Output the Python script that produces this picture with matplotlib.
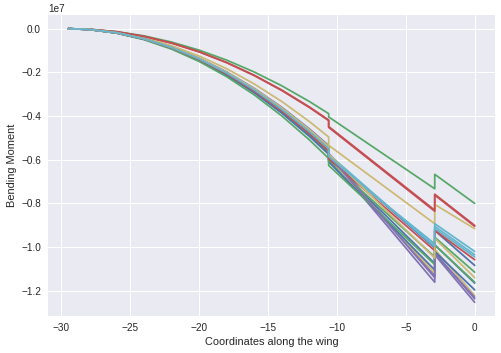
import numpy as np
import matplotlib
matplotlib.use("Agg")
import matplotlib.pyplot as plt

plt.style.use("seaborn-v0_8")

# stations along the wing (the jumps at -10.6 and -2.9 appear twice)
x_stations = [-29.5, -28, -26, -24, -22, -20, -18, -16, -14, -12, -10.6,
              -10.6, -2.9, -2.9, 0]

# bending moment per run, in units of 1e7
moment_runs = [
    [0, -0.0034, -0.0187, -0.0462, -0.0858, -0.1377, -0.2018, -0.2781, -0.3666, -0.4672, -0.545, -0.580, -1.004, -0.924, -1.084],
    [0, -0.0025, -0.0133, -0.0329, -0.0613, -0.0983, -0.1440, -0.1985, -0.2616, -0.3335, -0.389, -0.404, -0.733, -0.667, -0.800],
    [0, -0.0026, -0.0143, -0.0354, -0.0658, -0.1056, -0.1547, -0.2133, -0.2811, -0.3584, -0.418, -0.448, -0.831, -0.758, -0.901],
    [0, -0.0034, -0.0184, -0.0453, -0.0843, -0.1352, -0.1981, -0.2730, -0.3598, -0.4587, -0.535, -0.570, -1.132, -1.025, -1.237],
    [0, -0.0031, -0.0170, -0.0420, -0.0781, -0.1253, -0.1836, -0.2531, -0.3336, -0.4252, -0.496, -0.534, -0.893, -0.805, -0.916],
    [0, -0.0035, -0.0192, -0.0474, -0.0882, -0.1415, -0.2073, -0.2857, -0.3767, -0.4801, -0.560, -0.595, -0.985, -0.893, -1.020],
    [0, -0.0036, -0.0194, -0.0479, -0.0890, -0.1428, -0.2092, -0.2883, -0.3800, -0.4844, -0.565, -0.600, -1.075, -0.990, -1.165],
    [0, -0.0036, -0.0196, -0.0483, -0.0898, -0.1440, -0.2110, -0.2908, -0.3834, -0.4887, -0.570, -0.605, -1.045, -0.955, -1.115],
    [0, -0.0027, -0.0144, -0.0357, -0.0663, -0.1064, -0.1559, -0.2148, -0.2832, -0.3609, -0.421, -0.452, -0.836, -0.762, -0.905],
    [0, -0.0035, -0.0189, -0.0466, -0.0866, -0.1390, -0.2036, -0.2806, -0.3699, -0.4715, -0.550, -0.585, -1.161, -1.035, -1.253],
    [0, -0.0035, -0.0190, -0.0470, -0.0874, -0.1402, -0.2055, -0.2832, -0.3733, -0.4758, -0.555, -0.590, -1.120, -1.010, -1.222],
    [0, -0.0034, -0.0185, -0.0457, -0.0851, -0.1365, -0.1999, -0.2755, -0.3632, -0.4629, -0.540, -0.575, -1.000, -0.915, -1.045],
    [0, -0.0036, -0.0197, -0.0487, -0.0906, -0.1453, -0.2129, -0.2934, -0.3867, -0.4929, -0.575, -0.610, -1.105, -1.020, -1.196],
    [0, -0.0037, -0.0204, -0.0503, -0.0936, -0.1501, -0.2199, -0.3031, -0.3995, -0.5092, -0.594, -0.626, -1.080, -0.990, -1.161],
    [0, -0.0035, -0.0192, -0.0474, -0.0882, -0.1415, -0.2073, -0.2857, -0.3767, -0.4801, -0.560, -0.595, -1.016, -0.924, -1.058],
    [0, -0.0034, -0.0187, -0.0462, -0.0858, -0.1377, -0.2018, -0.2781, -0.3666, -0.4672, -0.545, -0.580, -1.140, -1.030, -1.230],
    [0, -0.0034, -0.0185, -0.0457, -0.0851, -0.1365, -0.1999, -0.2755, -0.3632, -0.4629, -0.540, -0.575, -1.050, -0.960, -1.140],
    [0, -0.0035, -0.0189, -0.0466, -0.0866, -0.1390, -0.2036, -0.2806, -0.3699, -0.4715, -0.550, -0.585, -0.995, -0.905, -1.035],
]

fig = plt.figure(figsize=(501 / 72, 353 / 72), dpi=72)
ax = fig.add_axes([48 / 501, 37 / 353, 447 / 501, 301 / 353])

for run in moment_runs:
    ax.plot(x_stations, np.array(run) * 1e7)

ax.set_xlabel("Coordinates along the wing")
ax.set_ylabel("Bending Moment")

fig.savefig("out.png", dpi=72)
